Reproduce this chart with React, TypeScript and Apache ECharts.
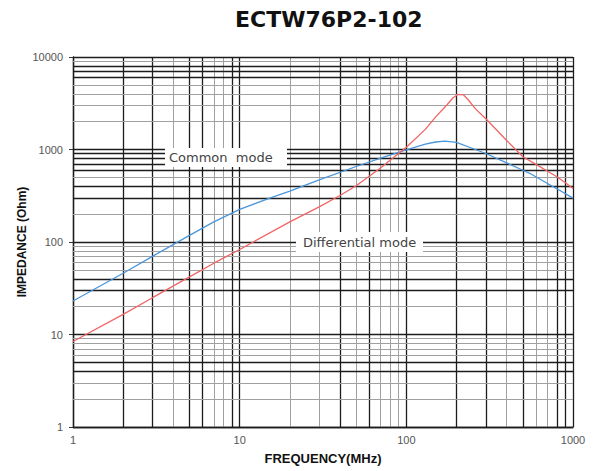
import React, { useEffect, useRef } from "react";
import * as echarts from "echarts";

const title = "ECTW76P2-102";
const xName = "FREQUENCY(MHz)";
const yName = "IMPEDANCE (Ohm)";

const commonFreq = [1, 2, 3, 5, 7, 10, 15, 20, 30, 50, 70, 100, 130, 150, 170, 200, 250, 300, 400, 500, 550, 700, 800, 1000];
const commonZ = [23, 46, 70, 118, 165, 225, 297, 355, 470, 655, 805, 990, 1140, 1205, 1230, 1195, 1025, 905, 718, 597, 553, 431, 376, 298];

const diffFreq = [1, 2, 3, 5, 7, 10, 20, 30, 40, 50, 70, 100, 130, 150, 175, 190, 205, 220, 235, 260, 300, 400, 500, 600, 700, 800, 900, 1000];
const diffZ = [8.4, 16.5, 25, 42, 59, 83, 165, 240, 318, 405, 630, 1060, 1650, 2250, 3030, 3600, 3950, 3900, 3450, 2750, 2150, 1250, 835, 690, 585, 508, 436, 378];

const xGridValues = [1, 2, 3, 4, 5, 6, 7, 8, 9, 10, 20, 30, 40, 50, 60, 70, 80, 90, 100, 200, 300, 400, 500, 600, 700, 800, 900, 1000];
const xDark = [1, 2, 3, 5, 6, 9, 10, 40, 60, 100, 200, 300, 500, 800, 900, 1000];
const yGridValues = [1, 2, 3, 4, 5, 6, 7, 8, 9, 10, 20, 30, 40, 50, 60, 70, 80, 90, 100, 200, 300, 400, 500, 600, 700, 800, 900, 1000, 2000, 3000, 4000, 5000, 6000, 7000, 8000, 9000, 10000];
const yDark = [1, 4, 5, 10, 30, 40, 100, 300, 400, 600, 700, 800, 900, 1000, 6000, 7000, 8000, 10000];

const commonLabel = "Common  mode";
const diffLabel = "Differential mode";

export default function App() {
  const ref = useRef<HTMLDivElement>(null);
  useEffect(() => {
    if (!ref.current) return;
    const chart = echarts.init(ref.current, null, { renderer: "svg" });
    const dark = "#1c1c1c";
    const gray = "#a0a0a0";
    const gridLines: any[] = [];
    xGridValues.forEach((v) => {
      const d = xDark.includes(v);
      gridLines.push({ xAxis: v, lineStyle: { color: d ? dark : gray, width: d ? 1.3 : 1, type: "solid" } });
    });
    yGridValues.forEach((v) => {
      const d = yDark.includes(v);
      gridLines.push({ yAxis: v, lineStyle: { color: d ? dark : gray, width: d ? 1.3 : 1, type: "solid" } });
    });
    chart.setOption({
      animation: false,
      backgroundColor: "#ffffff",
      grid: { left: 73, top: 57, width: 500, height: 370, containLabel: false },
      xAxis: {
        type: "log",
        logBase: 10,
        min: 1,
        max: 1000,
        splitLine: { show: false },
        axisLine: { show: true, lineStyle: { color: "#000", width: 1.3 } },
        axisTick: { show: false },
        axisLabel: { fontFamily: "Liberation Sans", fontSize: 11, color: "#555", margin: 7, formatter: (v: number) => String(v) },
        name: xName,
        nameLocation: "middle",
        nameGap: 25,
        nameMoveOverlap: false,
        nameTextStyle: { fontFamily: "Liberation Sans", fontSize: 13, fontWeight: "bold", color: "#111" },
      },
      yAxis: {
        type: "log",
        logBase: 10,
        min: 1,
        max: 10000,
        splitLine: { show: false },
        axisLine: { show: true, lineStyle: { color: "#000", width: 1.3 } },
        axisTick: { show: true, length: 4, lineStyle: { color: "#333" } },
        axisLabel: { fontFamily: "Liberation Sans", fontSize: 11, color: "#555", margin: 10, formatter: (v: number) => String(v) },
        name: yName,
        nameLocation: "middle",
        nameRotate: 90,
        nameGap: 51,
        nameMoveOverlap: false,
        nameTextStyle: { fontFamily: "Liberation Sans", fontSize: 12, fontWeight: "bold", color: "#111", verticalAlign: "middle" },
      },
      series: [
        {
          type: "line",
          data: [[1, 1]],
          symbol: "none",
          lineStyle: { opacity: 0 },
          silent: true,
          z: 1,
          markLine: {
            silent: true,
            symbol: ["none", "none"],
            label: { show: false },
            animation: false,
            data: gridLines,
          },
        },
        {
          type: "line",
          name: "Common mode",
          data: commonFreq.map((f, i) => [f, commonZ[i]]),
          showSymbol: false,
          symbol: "none",
          lineStyle: { color: "#4a96dc", width: 1.3 },
          z: 5,
        },
        {
          type: "line",
          name: "Differential mode",
          data: diffFreq.map((f, i) => [f, diffZ[i]]),
          showSymbol: false,
          symbol: "none",
          lineStyle: { color: "#f26565", width: 1.3 },
          z: 5,
        },
      ],
      graphic: [
        {
          type: "text",
          left: 235,
          top: 8,
          style: { text: title, font: "bold 22px 'DejaVu Sans'", fill: "#111" },
        },
        { type: "rect", shape: { x: 165, y: 148, width: 122, height: 19 }, style: { fill: "#fff" }, z: 10 },
        {
          type: "text",
          x: 169,
          y: 157.5,
          z: 11,
          style: { text: commonLabel, font: "13px 'DejaVu Sans'", fill: "#444", textVerticalAlign: "middle" },
        },
        { type: "rect", shape: { x: 296, y: 232, width: 127, height: 20 }, style: { fill: "#fff" }, z: 10 },
        {
          type: "text",
          x: 303,
          y: 242,
          z: 11,
          style: { text: diffLabel, font: "13px 'DejaVu Sans'", fill: "#444", textVerticalAlign: "middle" },
        },
      ],
    });
    return () => chart.dispose();
  }, []);
  return <div ref={ref} style={{ position: "fixed", left: 0, top: 0, width: 594, height: 471 }} />;
}
